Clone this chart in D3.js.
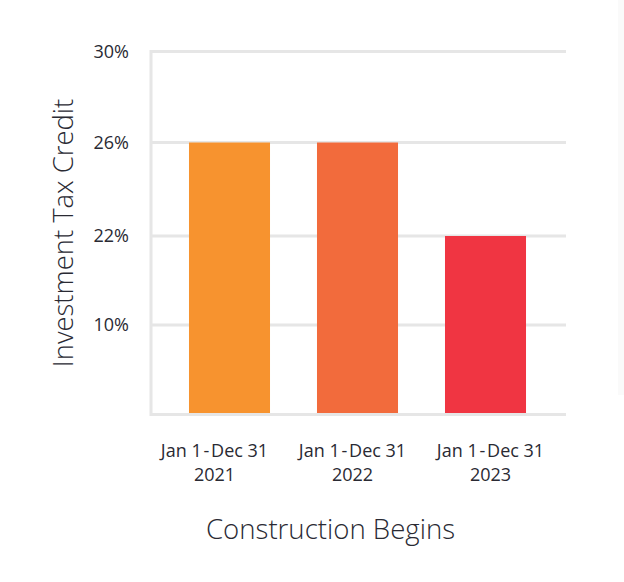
<!DOCTYPE html>
<html>
<head>
<meta charset="utf-8">
<script src="https://cdn.jsdelivr.net/npm/d3@7"></script>
<style>
html,body{margin:0;padding:0;background:#fff;}
svg text{font-family:"Open Sans",sans-serif;fill:#2a2a33;}
</style>
</head>
<body>
<svg id="chart" width="624" height="582"></svg>
<script>
const categories = ["Jan 1 - Dec 31|2021", "Jan 1 - Dec 31|2022", "Jan 1 - Dec 31|2023"];
const values = [26, 26, 22];
const colors = ["#F7932F", "#F26B3C", "#F03542"];
const yTicks = [10, 22, 26, 30];
const yTickLabels = ["10%", "22%", "26%", "30%"];
// axis is non-linear in the reference: ticks at 0,10,22,26,30 are roughly evenly spaced
const yDomainStops = [0, 10, 22, 26, 30];

(function () {
const svg = d3.select("#chart");
svg.append("rect").attr("x", 618).attr("y", 0).attr("width", 6).attr("height", 395).attr("fill", "#fafafa");

const pLeft = 151, pRight = 566;
const y = d3.scaleLinear()
  .domain(yDomainStops)
  .range([414.5, 325, 236, 142.5, 51.5]);

const x = d3.scaleBand()
  .domain(categories)
  .range([165.5, 549.5])
  .paddingInner(0.367)
  .paddingOuter(0.1835);

// labels sit on their own evenly spaced band (offset from the bars in the reference)
const xLabel = d3.scaleBand()
  .domain(categories)
  .range([145.5, 559.5]);

// grid lines
svg.append("g").selectAll("line")
  .data(yTicks)
  .join("line")
  .attr("x1", pLeft).attr("x2", pRight)
  .attr("y1", d => y(d)).attr("y2", d => y(d))
  .attr("stroke", "#e6e6e6").attr("stroke-width", 3);

// bars
svg.append("g").selectAll("rect")
  .data(values)
  .join("rect")
  .attr("x", (d, i) => x(categories[i]))
  .attr("width", x.bandwidth())
  .attr("y", d => y(d))
  .attr("height", d => y(0) - 1.5 - y(d))
  .attr("fill", (d, i) => colors[i]);

// baseline and left axis
svg.append("line").attr("x1", pLeft).attr("x2", pRight).attr("y1", y(0)).attr("y2", y(0))
  .attr("stroke", "#e6e6e6").attr("stroke-width", 3);
svg.append("line").attr("x1", pLeft).attr("x2", pLeft).attr("y1", y(30) - 1.5).attr("y2", y(0) + 1.5)
  .attr("stroke", "#e6e6e6").attr("stroke-width", 3);

// y tick labels
svg.append("g").selectAll("text")
  .data(yTicks)
  .join("text")
  .attr("x", 129)
  .attr("y", d => y(d))
  .attr("dy", "0.35em")
  .attr("text-anchor", "end")
  .attr("font-size", 18)
  .text((d, i) => yTickLabels[i]);

// x tick labels
const xl = svg.append("g").selectAll("text")
  .data(categories)
  .join("text")
  .attr("text-anchor", "middle")
  .attr("font-size", 18)
  .attr("transform", d => `translate(${xLabel(d) + xLabel.bandwidth() / 2},0)`);
xl.each(function (d) {
  const parts = d.split("|");
  d3.select(this).selectAll("tspan").data(parts).join("tspan")
    .attr("x", 0).attr("y", (p, i) => 457 + i * 24)
    .text(p => p.replace(/ - /, "\u200A-\u200A"));
});

// axis titles
svg.append("text").attr("x", 330.5).attr("y", 539).attr("text-anchor", "middle")
  .attr("font-size", 27.6).attr("font-weight", 300).text("Construction Begins");
svg.append("text").attr("transform", "translate(73,233) rotate(-90)").attr("text-anchor", "middle")
  .attr("font-size", 27.4).attr("font-weight", 300).text("Investment Tax Credit");
})();
</script>
</body>
</html>
